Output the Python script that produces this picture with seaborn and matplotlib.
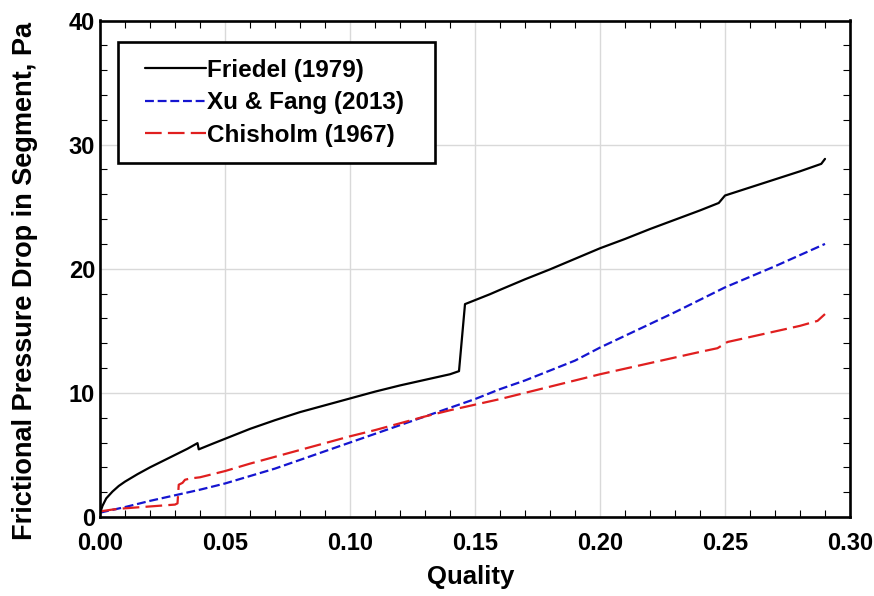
import matplotlib
matplotlib.use("Agg")
import matplotlib.pyplot as plt
import matplotlib.patches as mpatches
import seaborn as sns
import numpy as np
import pandas as pd
from matplotlib.ticker import MultipleLocator, FormatStrFormatter

friedel_x = [0, 0.001, 0.0025, 0.005, 0.0075, 0.01, 0.015, 0.02, 0.025, 0.03, 0.035, 0.039, 0.0395,
             0.045, 0.05, 0.06, 0.07, 0.08, 0.09, 0.10, 0.11, 0.12, 0.13, 0.14, 0.1436, 0.146,
             0.156, 0.16, 0.17, 0.18, 0.19, 0.20, 0.21, 0.22, 0.23, 0.24, 0.2475, 0.25, 0.26,
             0.27, 0.28, 0.2885, 0.29]
friedel_y = [0.3, 0.9, 1.5, 2.05, 2.5, 2.85, 3.45, 4.0, 4.5, 5.0, 5.5, 5.95, 5.45,
             5.9, 6.3, 7.1, 7.8, 8.45, 9.0, 9.55, 10.1, 10.6, 11.05, 11.5, 11.75, 17.15,
             17.95, 18.3, 19.15, 19.95, 20.8, 21.65, 22.4, 23.2, 23.95, 24.7, 25.3, 25.9, 26.55,
             27.2, 27.85, 28.45, 28.85]

xu_x = [0, 0.01, 0.02, 0.03, 0.04, 0.05, 0.06, 0.07, 0.08, 0.09, 0.10, 0.11, 0.12, 0.13, 0.14,
        0.15, 0.16, 0.17, 0.18, 0.19, 0.20, 0.21, 0.22, 0.23, 0.24, 0.25, 0.26, 0.27, 0.28, 0.29]
xu_y = [0.35, 0.8, 1.3, 1.75, 2.2, 2.7, 3.3, 3.9, 4.6, 5.3, 6.0, 6.7, 7.4, 8.1, 8.8,
        9.5, 10.3, 11.0, 11.8, 12.6, 13.65, 14.6, 15.55, 16.5, 17.5, 18.5, 19.35, 20.2, 21.1, 22.0]

chis_x = [0, 0.005, 0.01, 0.02, 0.03, 0.031, 0.0315, 0.033, 0.034, 0.036, 0.04, 0.05, 0.06, 0.07,
          0.08, 0.09, 0.10, 0.11, 0.12, 0.13, 0.14, 0.15, 0.16, 0.17, 0.18, 0.19, 0.20, 0.21,
          0.22, 0.23, 0.24, 0.247, 0.251, 0.26, 0.27, 0.28, 0.287, 0.29]
chis_y = [0.45, 0.6, 0.7, 0.85, 1.0, 1.1, 2.6, 2.75, 3.0, 3.1, 3.2, 3.7, 4.3, 4.85,
          5.4, 5.95, 6.5, 7.0, 7.55, 8.1, 8.6, 9.05, 9.5, 10.0, 10.5, 11.0, 11.5, 11.95,
          12.4, 12.85, 13.3, 13.6, 14.1, 14.5, 14.95, 15.4, 15.8, 16.35]

labels = ["Friedel (1979)", "Xu & Fang (2013)", "Chisholm (1967)"]
x_ticks = [0.00, 0.05, 0.10, 0.15, 0.20, 0.25, 0.30]
y_ticks = [0, 10, 20, 30, 40]

sns.set_theme(style="white")
plt.rcParams["font.family"] = ["Liberation Sans", "DejaVu Sans"]
plt.rcParams.update({"text.color": "black", "axes.labelcolor": "black",
                     "xtick.color": "black", "ytick.color": "black"})

W, H = 874, 596
fig = plt.figure(figsize=(W / 100, H / 100), dpi=100)
ax_l, ax_r, ax_t, ax_b = 100, 850, 20.5, 517
ax = fig.add_axes([ax_l / W, 1 - ax_b / H, (ax_r - ax_l) / W, (ax_b - ax_t) / H])

sns.lineplot(x=friedel_x, y=friedel_y, ax=ax, color="black", lw=1.6, label=labels[0], sort=False)
sns.lineplot(x=xu_x, y=xu_y, ax=ax, color="#1515d0", lw=1.6, label=labels[1], sort=False)
sns.lineplot(x=chis_x, y=chis_y, ax=ax, color="#e01f1f", lw=1.6, label=labels[2], sort=False)
lines = ax.get_lines()
lines[1].set_dashes([4.0, 1.7])
lines[2].set_dashes([7.5, 2.8])

ax.set_xlim(0, 0.30)
ax.set_ylim(0, 40)
ax.set_xticks(x_ticks)
ax.set_yticks(y_ticks)
ax.xaxis.set_minor_locator(MultipleLocator(0.01))
ax.yaxis.set_minor_locator(MultipleLocator(2))
ax.xaxis.set_major_formatter(FormatStrFormatter("%.2f"))
ax.grid(True, which="major", color="#d9d9d9", lw=1)
ax.tick_params(which="both", direction="in", top=True, right=True, bottom=True, left=True)
ax.tick_params(which="major", length=0)
ax.tick_params(axis="x", which="major", pad=11)
ax.tick_params(axis="y", which="major", pad=3.5)
ax.tick_params(which="minor", length=5, width=0.8, color="black")
for lab in ax.get_xticklabels() + ax.get_yticklabels():
    lab.set_fontsize(17)
    lab.set_fontweight("bold")
    lab.set_color("black")
for s in ax.spines.values():
    s.set_color("black")
    s.set_linewidth(1.9)

ax.set_xlabel("Quality", fontsize=18.5, fontweight="bold", color="black")
ax.xaxis.set_label_coords(0.5 - 4 / 750, (ax_b - 565) / (ax_b - ax_t))
ax.set_ylabel("Frictional Pressure Drop in Segment, Pa", fontsize=19.5, fontweight="bold",
              color="black")
ax.yaxis.set_label_coords((38 - ax_l) / (ax_r - ax_l), (ax_b - 281) / (ax_b - ax_t))

leg = ax.legend(loc="upper left", bbox_to_anchor=(145 / W, 1 - 59 / H),
                bbox_transform=fig.transFigure, fontsize=17.5, frameon=False,
                handlelength=2.5, handletextpad=0.05, borderpad=0, labelspacing=0.39,
                borderaxespad=0)
for t in leg.get_texts():
    t.set_fontweight("bold")
    t.set_color("black")
for h in leg.get_lines():
    h.set_linewidth(1.6)
leg.set_zorder(6)
box = mpatches.Rectangle((118 / W, 1 - 163 / H), (435 - 118) / W, (163 - 41.7) / H,
                         transform=fig.transFigure, facecolor="white", edgecolor="black",
                         lw=1.9, zorder=5, clip_on=False)
ax.add_patch(box)

fig.savefig("out.png", dpi=100)
